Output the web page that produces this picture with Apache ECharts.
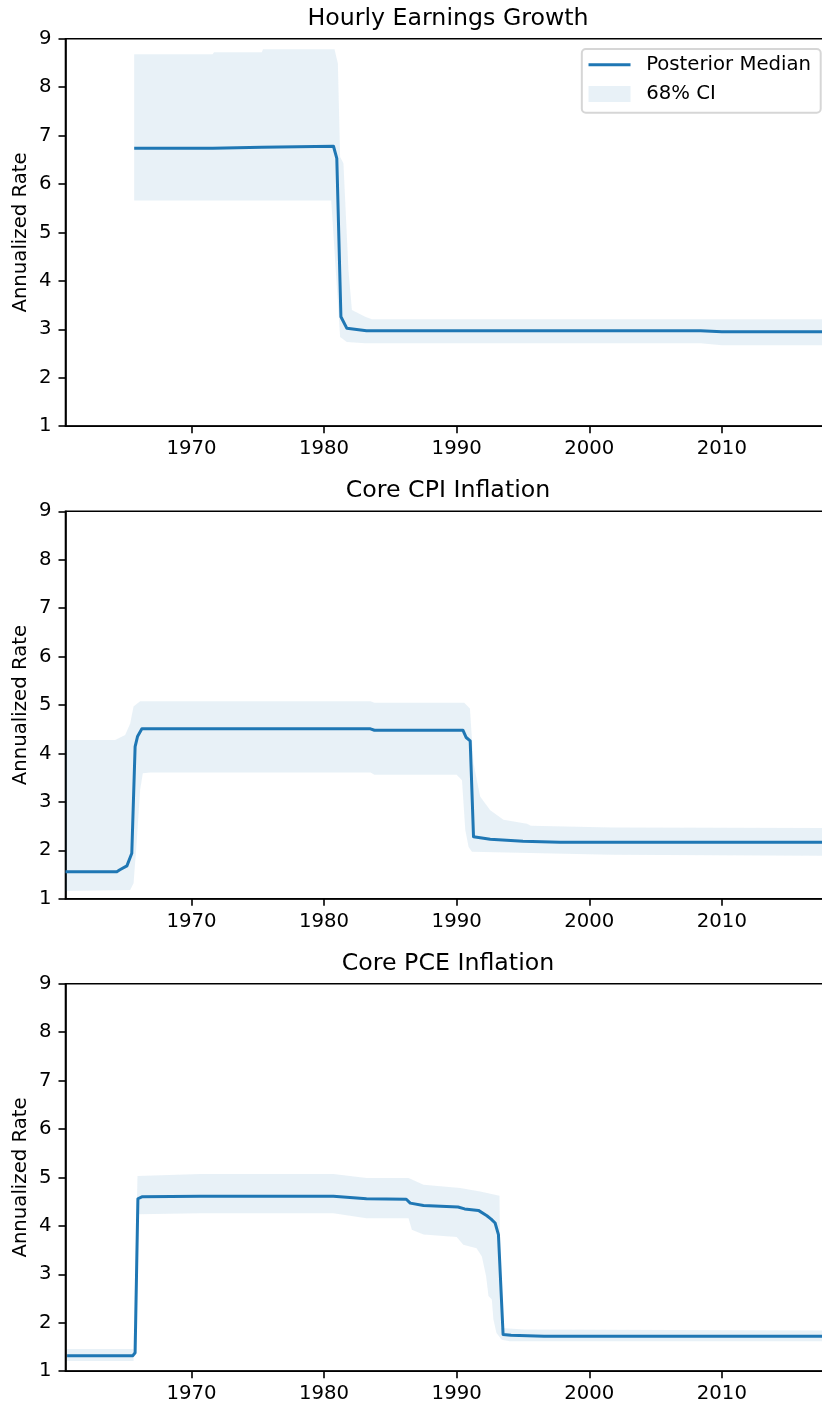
<!DOCTYPE html>
<html>
<head>
<meta charset="utf-8">
<title>Trend inflation and wage growth</title>
<script src="https://cdn.jsdelivr.net/npm/echarts@6/dist/echarts.min.js"></script>
<style>
  html, body { margin: 0; padding: 0; background: #fff; }
  #chart { width: 822px; height: 1410px; }
</style>
</head>
<body>
<div id="chart"></div>
<script>
// ---- data: [year, value] pairs ----
const panelTitles = ['Hourly Earnings Growth', 'Core CPI Inflation', 'Core PCE Inflation'];
const xTickYears = [1970, 1980, 1990, 2000, 2010];
const yTicks = [1, 2, 3, 4, 5, 6, 7, 8, 9];

// Hourly Earnings Growth
const hegMedian = [
  [1965.68, 6.74], [1971.6, 6.74], [1971.7, 6.76], [1975.3, 6.76], [1975.4, 6.78],
  [1980.71, 6.78], [1980.96, 6.53], [1981.27, 3.26], [1981.72, 3.02], [1983.2, 2.97],
  [2008.4, 2.97], [2010.0, 2.95], [2018.2, 2.95]
];
const hegUpper = [
  [1965.68, 8.68], [1971.6, 8.68], [1971.7, 8.72], [1975.3, 8.72], [1975.4, 8.78],
  [1980.79, 8.78], [1981.04, 8.49], [1981.21, 6.56], [1981.46, 6.43], [1981.84, 4.22],
  [1982.1, 3.40], [1983.1, 3.26], [1983.6, 3.21], [2018.2, 3.21]
];
const hegLower = [
  [1965.68, 5.66], [1980.54, 5.66], [1981.21, 2.84], [1981.72, 2.74], [1983.1, 2.71],
  [2008.4, 2.71], [2010.0, 2.67], [2018.2, 2.67]
];

// Core CPI Inflation
const cpiMedian = [
  [1960.5, 1.56], [1964.37, 1.56], [1964.6, 1.60], [1965.13, 1.68], [1965.5, 1.94],
  [1965.75, 4.14], [1965.93, 4.35], [1966.26, 4.51], [1983.5, 4.51], [1983.8, 4.48],
  [1990.47, 4.48], [1990.72, 4.33], [1991.02, 4.26], [1991.27, 2.28], [1992.53, 2.23],
  [1995.0, 2.19], [1997.8, 2.17], [2018.2, 2.17]
];
const cpiUpper = [
  [1960.5, 4.28], [1964.25, 4.28], [1965.0, 4.38], [1965.38, 4.62], [1965.63, 4.97],
  [1966.13, 5.08], [1983.5, 5.08], [1983.8, 5.05], [1990.57, 5.05], [1991.0, 4.93],
  [1991.27, 3.80], [1991.77, 3.11], [1992.53, 2.83], [1993.53, 2.63], [1995.3, 2.55],
  [1995.6, 2.51], [2001.7, 2.47], [2018.2, 2.46]
];
const cpiLower = [
  [1960.5, 1.16], [1965.38, 1.18], [1965.63, 1.32], [1965.88, 2.21], [1966.13, 3.25],
  [1966.33, 3.59], [1966.9, 3.61], [1983.5, 3.61], [1983.8, 3.56], [1990.0, 3.56],
  [1990.4, 3.45], [1990.65, 2.42], [1990.9, 2.07], [1991.15, 1.97], [2001.7, 1.91],
  [2018.2, 1.89]
];

// Core PCE Inflation
const pceMedian = [
  [1960.62, 1.32], [1965.58, 1.32], [1965.75, 1.38], [1965.96, 4.56], [1966.26, 4.60],
  [1970.66, 4.61], [1980.7, 4.61], [1983.2, 4.56], [1986.2, 4.55], [1986.5, 4.47],
  [1987.5, 4.42], [1990.1, 4.39], [1990.6, 4.35], [1991.64, 4.32], [1992.28, 4.21],
  [1992.6, 4.14], [1992.9, 4.06], [1993.15, 3.82], [1993.5, 1.76], [1994.1, 1.74],
  [1996.6, 1.72], [2018.2, 1.72]
];
const pceUpper = [
  [1960.62, 1.46], [1965.63, 1.46], [1965.93, 5.03], [1970.66, 5.07], [1980.7, 5.07],
  [1983.2, 4.99], [1986.37, 4.99], [1987.5, 4.85], [1990.26, 4.78], [1991.77, 4.71],
  [1993.23, 4.62], [1993.33, 1.89], [1995.1, 1.86], [2018.2, 1.84]
];
const pceLower = [
  [1960.62, 1.21], [1965.63, 1.21], [1965.96, 4.24], [1970.66, 4.26], [1980.7, 4.26],
  [1983.2, 4.16], [1986.37, 4.16], [1986.62, 3.92], [1987.5, 3.82], [1990.0, 3.77],
  [1990.5, 3.61], [1991.5, 3.54], [1991.9, 3.37], [1992.22, 2.96], [1992.4, 2.55],
  [1992.65, 2.48], [1992.77, 2.07], [1993.0, 1.79], [1993.4, 1.65], [1994.0, 1.62],
  [2018.2, 1.62]
];

// ---- styling ----
const FONT = 'DejaVu Sans';
const LINE_COLOR = '#1f77b4';
const BAND_COLOR = 'rgba(31,119,180,0.1)';
const X_MIN = 1960.5, X_MAX = 2018.2;
const gridTops = [38.7, 511.3, 983.7];
const GRID_H = 387.5;
const GRID_LEFT = 65.5;
const GRID_RIGHT = -8.6;   // right spine sits just beyond the canvas edge
const TICK_FS = 19.7, TITLE_FS = 23.7;

const panels = [
  { median: hegMedian, upper: hegUpper, lower: hegLower },
  { median: cpiMedian, upper: cpiUpper, lower: cpiLower },
  { median: pceMedian, upper: pceUpper, lower: pceLower }
];

// Credible band: one closed polygon, upper edge then lower edge reversed
function bandSeries(upper, lower, idx) {
  const ring = upper.concat(lower.slice().reverse());
  return {
    type: 'custom',
    name: '68% CI',
    xAxisIndex: idx,
    yAxisIndex: idx,
    data: ring,
    encode: { x: 0, y: 1 },
    itemStyle: { color: BAND_COLOR },
    silent: true,
    z: 1,
    renderItem: function (params, api) {
      if (params.dataIndexInside !== 0) return null;
      const pts = [];
      for (let i = 0; i < params.dataInsideLength; i++) {
        pts.push(api.coord([api.value(0, i), api.value(1, i)]));
      }
      return { type: 'polygon', shape: { points: pts }, style: { fill: BAND_COLOR }, silent: true };
    }
  };
}

function medianSeries(median, idx) {
  return {
    type: 'line',
    name: 'Posterior Median',
    xAxisIndex: idx,
    yAxisIndex: idx,
    data: median,
    symbol: 'none',
    showSymbol: false,
    lineStyle: { color: LINE_COLOR, width: 3, join: 'round' },
    itemStyle: { color: LINE_COLOR },
    z: 3
  };
}

const grids = [], xAxes = [], yAxes = [], series = [], titles = [];
panels.forEach(function (p, i) {
  grids.push({
    left: GRID_LEFT, right: GRID_RIGHT, top: gridTops[i], height: GRID_H,
    outerBoundsMode: 'none', containLabel: false,
    show: true, borderColor: '#000', borderWidth: 1.6, backgroundColor: 'transparent'
  });
  xAxes.push({
    type: 'value', gridIndex: i, min: X_MIN, max: X_MAX,
    axisLine: { show: true, lineStyle: { color: '#000', width: 1.6 } },
    axisTick: { show: true, customValues: xTickYears, length: 7, lineStyle: { color: '#000', width: 1.6 } },
    axisLabel: {
      customValues: xTickYears, margin: 13, color: '#000',
      fontFamily: FONT, fontSize: TICK_FS,
      formatter: function (v) { return String(Math.round(v)); }
    },
    splitLine: { show: false }
  });
  yAxes.push({
    type: 'value', gridIndex: i, min: yTicks[0], max: yTicks[yTicks.length - 1], interval: 1,
    name: 'Annualized Rate', nameLocation: 'middle', nameGap: 35, nameMoveOverlap: false,
    nameTextStyle: { fontFamily: FONT, fontSize: TICK_FS, color: '#000' },
    axisLine: { show: true, lineStyle: { color: '#000', width: 1.6 } },
    axisTick: { show: true, length: 7, lineStyle: { color: '#000', width: 1.6 } },
    axisLabel: { margin: 14, color: '#000', fontFamily: FONT, fontSize: TICK_FS },
    splitLine: { show: false }
  });
  series.push(bandSeries(p.upper, p.lower, i));
  series.push(medianSeries(p.median, i));
  titles.push({
    text: panelTitles[i],
    left: 448, top: gridTops[i] - 20.1,
    textAlign: 'center', textVerticalAlign: 'middle', padding: 0,
    textStyle: { fontFamily: FONT, fontSize: TITLE_FS, fontWeight: 'normal', color: '#000' }
  });
});

const chart = echarts.init(document.getElementById('chart'), null, { renderer: 'canvas' });
chart.setOption({
  animation: false,
  backgroundColor: '#fff',
  textStyle: { fontFamily: FONT },
  title: titles,
  grid: grids,
  xAxis: xAxes,
  yAxis: yAxes,
  legend: {
    orient: 'vertical',
    right: 1.3, top: 49,
    padding: [5.7, 9.7, 8.7, 6.7],
    itemWidth: 42, itemHeight: 16, itemGap: 9.3,
    backgroundColor: 'rgba(255,255,255,0.8)',
    borderColor: '#d6d6d6', borderWidth: 2, borderRadius: 4,
    textStyle: { fontFamily: FONT, fontSize: TICK_FS, color: '#000', lineHeight: 20, padding: [0, 0, 0, 10.6] },
    data: [
      { name: 'Posterior Median', icon: 'path://M0,0 L42,0 L42,3 L0,3 Z', itemStyle: { color: LINE_COLOR, borderWidth: 0 } },
      { name: '68% CI', icon: 'rect', itemStyle: { color: BAND_COLOR, borderWidth: 0 } }
    ],
    selectedMode: false
  },
  series: series
});
</script>
</body>
</html>
